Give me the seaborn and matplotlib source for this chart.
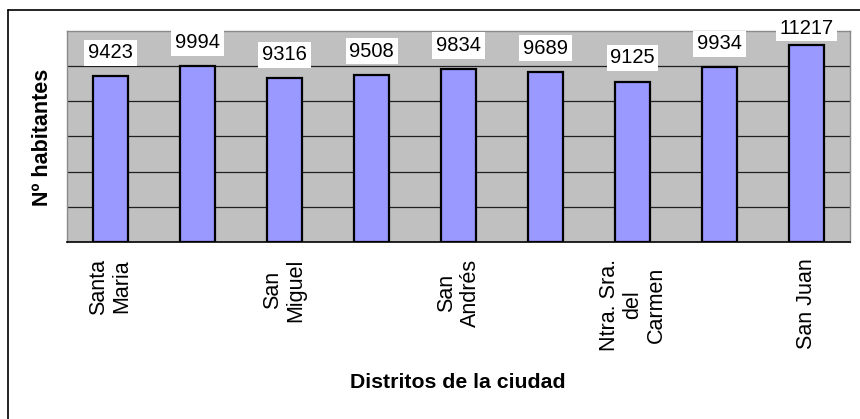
import matplotlib
matplotlib.use("Agg")
import matplotlib.pyplot as plt
from matplotlib.lines import Line2D
import pandas as pd
import seaborn as sns

# data
districts = ["Santa Maria", "Distrito 2", "San Miguel", "Distrito 4", "San Andrés",
             "Distrito 6", "Ntra. Sra. del Carmen", "Distrito 8", "San Juan"]
inhabitants = [9423, 9994, 9316, 9508, 9834, 9689, 9125, 9934, 11217]
# Excel only printed every other category label
tick_labels = ["Santa\nMaria", "", "San\nMiguel", "", "San\nAndrés",
               "", "Ntra. Sra.\ndel\nCarmen", "", "San Juan"]
grid_values = [2000, 4000, 6000, 8000, 10000]

df = pd.DataFrame({"distrito": districts, "habitantes": inhabitants})

sns.set_theme(style="white")
plt.rcParams["font.family"] = ["Liberation Sans", "DejaVu Sans"]
plt.rcParams["text.color"] = "black"
plt.rcParams["xtick.color"] = "black"

W, H = 860, 419
fig = plt.figure(figsize=(W / 100, H / 100), dpi=100)
ax = fig.add_axes([67 / W, 1 - 242 / H, (850 - 67) / W, (242 - 31) / H])
ax.set_facecolor("#C0C0C0")

sns.barplot(data=df, x="distrito", y="habitantes", color="#9999FF",
            edgecolor="black", linewidth=1.6, width=0.4, saturation=1, ax=ax)

ax.set_xlim(-0.5, len(districts) - 0.5)
ax.set_ylim(0, 12000)
ax.set_yticks(grid_values)
ax.yaxis.grid(True, color="#202020", linewidth=0.9)
ax.set_axisbelow(True)
ax.tick_params(axis="y", left=False, labelleft=False)

ax.set_xticks(range(len(districts)))
ax.set_xticklabels(tick_labels, rotation=90, fontsize=15.5, color="black", linespacing=1.15)
for lab in ax.get_xticklabels():
    lab.set_ha("center")
    lab.set_va("top")
    lab.set_multialignment("center")
ax.tick_params(axis="x", which="major", length=0, pad=12)
ax.set_xticks([i - 0.5 for i in range(len(districts) + 1)], minor=True)
ax.tick_params(axis="x", which="minor", length=5, width=1, color="black", direction="out")
ax.set_xlabel("")
ax.set_ylabel("")

for side in ["top", "right", "left"]:
    ax.spines[side].set_color("#8a8a8a")
    ax.spines[side].set_linewidth(1.0)
ax.spines["bottom"].set_color("black")
ax.spines["bottom"].set_linewidth(1.2)

# value labels on white boxes
for i, v in enumerate(inhabitants):
    off = 13 if v < 11000 else 8
    ax.annotate(str(v), (i, v), xytext=(0, off), textcoords="offset points",
                ha="center", va="baseline", fontsize=14.5, color="black",
                bbox=dict(boxstyle="square,pad=0.18", fc="white", ec="none"),
                annotation_clip=False)

fig.text(43 / W, 1 - 137 / H, "Nº habitantes", rotation=90, ha="center", va="center",
         fontsize=15.5, fontweight="bold", color="black")
fig.text(458 / W, 1 - 382 / H, "Distritos de la ciudad", ha="center", va="center",
         fontsize=15.3, fontweight="bold", color="black")

# chart area frame (only top and left visible in the crop)
fig.add_artist(Line2D([8 / W, 8 / W], [0, 1 - 10 / H], color="black", linewidth=1.2))
fig.add_artist(Line2D([8 / W, 1], [1 - 10 / H, 1 - 10 / H], color="black", linewidth=1.2))

fig.savefig("out.png", dpi=100)
